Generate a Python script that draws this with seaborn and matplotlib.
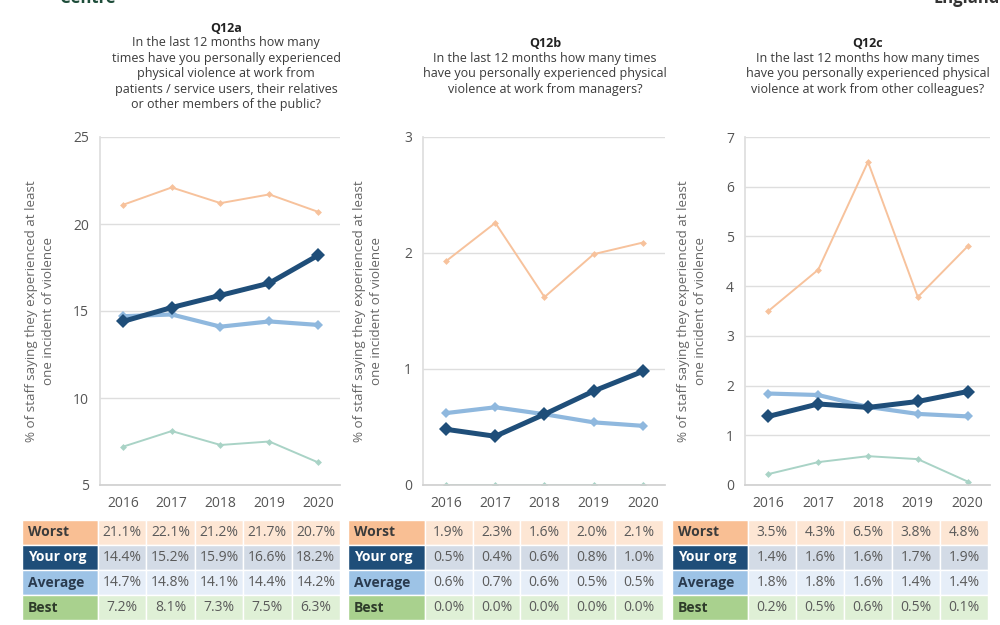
import matplotlib
matplotlib.use("Agg")
import matplotlib.pyplot as plt
from matplotlib.patches import Rectangle
import seaborn as sns
import pandas as pd

sns.set_theme(style="white")
plt.rcParams['font.family'] = ['Open Sans', 'DejaVu Sans']

years = [2016, 2017, 2018, 2019, 2020]
series_names = ["Worst", "Your org", "Average", "Best"]

q12a_worst = [21.1, 22.1, 21.2, 21.7, 20.7]
q12a_yours = [14.4, 15.2, 15.9, 16.6, 18.2]
q12a_avg = [14.7, 14.8, 14.1, 14.4, 14.2]
q12a_best = [7.2, 8.1, 7.3, 7.5, 6.3]

q12b_worst = [1.93, 2.26, 1.62, 1.99, 2.09]
q12b_yours = [0.48, 0.42, 0.61, 0.81, 0.98]
q12b_avg = [0.62, 0.67, 0.61, 0.54, 0.51]
q12b_best = [0.0, 0.0, 0.0, 0.0, 0.0]

q12c_worst = [3.5, 4.33, 6.5, 3.78, 4.8]
q12c_yours = [1.38, 1.63, 1.56, 1.68, 1.88]
q12c_avg = [1.84, 1.81, 1.57, 1.43, 1.38]
q12c_best = [0.22, 0.46, 0.58, 0.52, 0.07]

titles = ["Q12a", "Q12b", "Q12c"]
questions = [
    "In the last 12 months how many\ntimes have you personally experienced\nphysical violence at work from\npatients / service users, their relatives\nor other members of the public?",
    "In the last 12 months how many times\nhave you personally experienced physical\nviolence at work from managers?",
    "In the last 12 months how many times\nhave you personally experienced physical\nviolence at work from other colleagues?",
]
y_ticks = [[5, 10, 15, 20, 25], [0, 1, 2, 3], [0, 1, 2, 3, 4, 5, 6, 7]]
y_label = "% of staff saying they experienced at least\none incident of violence"

panels = [
    [q12a_worst, q12a_yours, q12a_avg, q12a_best],
    [q12b_worst, q12b_yours, q12b_avg, q12b_best],
    [q12c_worst, q12c_yours, q12c_avg, q12c_best],
]

line_colors = {"Worst": "#f7c29c", "Your org": "#1f4e79", "Average": "#8fb8de", "Best": "#a9d3c6"}
line_widths = {"Worst": 1.4, "Your org": 3.6, "Average": 3.0, "Best": 1.4}
marker_sizes = {"Worst": 3.5, "Your org": 7, "Average": 5, "Best": 3.5}
draw_order = ["Worst", "Best", "Average", "Your org"]

label_bg = {"Worst": "#f9bf94", "Your org": "#1f4e79", "Average": "#9dc3e6", "Best": "#a9d18e"}
cell_bg = {"Worst": "#fde6d4", "Your org": "#d3dbe6", "Average": "#e6eef8", "Best": "#dff0d6"}
label_fg = {"Worst": "#3b3b3b", "Your org": "#ffffff", "Average": "#2a3b4f", "Best": "#2e3b2a"}

W, H = 1000, 625
fig = plt.figure(figsize=(10, 6.25), dpi=100)

axes_px = [(100, 340), (423, 665), (745, 990)]
ylabel_x = [40, 368, 692]
title_cx = [226, 545, 868]
table_px = [(22, 98, 340), (348, 425, 663), (672, 748, 988)]
top_px, bot_px = 137, 485
line_h = 15.2
block_c = 66

for i in range(3):
    l, r = axes_px[i]
    ax = fig.add_axes([l / W, 1 - bot_px / H, (r - l) / W, (bot_px - top_px) / H])
    vals = panels[i]
    rows = []
    for name, v in zip(series_names, vals):
        for yr, val in zip(years, v):
            rows.append({"year": yr, "value": val, "series": name})
    df = pd.DataFrame(rows)
    for name in draw_order:
        sub = df[df["series"] == name]
        sns.lineplot(data=sub, x="year", y="value", ax=ax, color=line_colors[name],
                     linewidth=line_widths[name], marker="D", markersize=marker_sizes[name],
                     markeredgewidth=0, legend=False, zorder=3 if name == "Your org" else 2)
    yt = y_ticks[i]
    ax.set_ylim(yt[0], yt[-1])
    ax.set_yticks(yt)
    ax.set_xlim(2015.53, 2020.45)
    ax.set_xticks(years)
    ax.set_xticklabels([str(y) for y in years])
    ax.grid(axis="y", color="#dedede", linewidth=1)
    ax.set_axisbelow(True)
    for s in ["top", "right"]:
        ax.spines[s].set_visible(False)
    ax.spines["left"].set_color("#dedede")
    ax.spines["bottom"].set_color("#d0d0d0")
    ax.tick_params(axis="both", colors="#555555", labelsize=10, length=0, pad=8)
    ax.set_xlabel("")
    ax.set_ylabel("")
    for lab in ax.get_xticklabels() + ax.get_yticklabels():
        lab.set_color("#555555")
    fig.text(ylabel_x[i] / W, 1 - 311 / H, y_label, rotation=90, ha="center", va="center",
             fontsize=9.6, color="#666666", linespacing=1.4)
    # title block
    nq = questions[i].count("\n") + 1
    title_y = block_c - nq * line_h / 2
    q_y = block_c + line_h / 2
    fig.text(title_cx[i] / W, 1 - title_y / H, titles[i], ha="center", va="center",
             fontsize=9, fontweight="bold", color="#222222")
    fig.text(title_cx[i] / W, 1 - q_y / H, questions[i], ha="center", va="center",
             fontsize=9, color="#3a3a3a", linespacing=1.25)

    # table
    tl, tm, tr = table_px[i]
    tax = fig.add_axes([tl / W, 1 - 620 / H, (tr - tl) / W, 100 / H])
    tax.set_xlim(0, tr - tl)
    tax.set_ylim(0, 100)
    tax.axis("off")
    lab_w = tm - tl
    cell_w = (tr - tm) / 5
    for ri, name in enumerate(series_names):
        y0 = 100 - (ri + 1) * 25
        tax.add_patch(Rectangle((0, y0), lab_w, 25, facecolor=label_bg[name], edgecolor="white", lw=1))
        tax.text(6, y0 + 12.5, name, ha="left", va="center", fontsize=10, fontweight="bold",
                 color=label_fg[name])
        for ci, val in enumerate(vals[ri]):
            x0 = lab_w + ci * cell_w
            tax.add_patch(Rectangle((x0, y0), cell_w, 25, facecolor=cell_bg[name], edgecolor="white", lw=1))
            tax.text(x0 + cell_w / 2, y0 + 12.5, f"{val:.1f}%", ha="center", va="center",
                     fontsize=10, color="#5a5a5a")

fig.text(60 / W, 1 - 3 / H, "Centre", ha="left", va="baseline", fontsize=12, fontweight="bold", color="#1e4d3a")
fig.text(1.0, 1 - 3 / H, "England", ha="right", va="baseline", fontsize=12, fontweight="bold", color="#333333")

fig.savefig("out.png", dpi=100)
